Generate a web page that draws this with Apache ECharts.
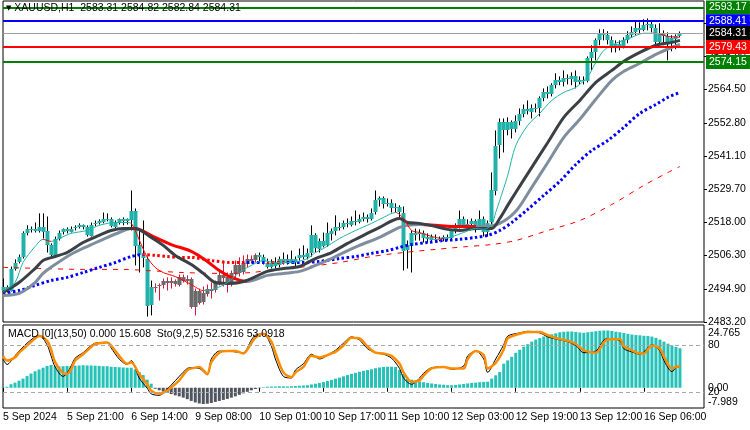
<!DOCTYPE html>
<html><head><meta charset="utf-8">
<script src="https://cdn.jsdelivr.net/npm/echarts@6/dist/echarts.min.js"></script>
<style>html,body{margin:0;padding:0;background:#fff}#c{width:750px;height:430px}</style>
</head><body><div id="c"></div>
<script>
// ---------------- data ----------------
const symbolTitle = 'XAUUSD,H1  2583.31 2584.82 2582.84 2584.31';
const subTitle = 'MACD [0](13,50) 0.000 15.608  Sto(9,2,5) 52.5316 53.0918';
const timeLabels = ['5 Sep 2024','5 Sep 21:00','6 Sep 14:00','9 Sep 08:00','10 Sep 01:00','10 Sep 17:00','11 Sep 10:00','12 Sep 03:00','12 Sep 19:00','13 Sep 12:00','16 Sep 06:00'];
const priceTickLabels = ['2483.20','2494.90','2506.30','2518.00','2529.70','2541.10','2552.80','2564.50','2575.90','2587.60'];
const PRICE_MIN = 2483.2, PRICE_MAX = 2595.48, PRICE_LABEL_STEP = 11.614;
const MACD_MIN = -7.989, MACD_MAX = 24.765;

const openP = [
2494.2,2495.3,2494.2,2501.9,2504.0,2505.8,2514.2,2515.6,2515.9,2515.2,
2516.6,2514.9,2510.0,2506.5,2512.4,2514.5,2515.6,2514.9,2515.9,2516.3,
2517.0,2516.3,2513.5,2517.3,2517.7,2518.4,2519.4,2519.1,2516.6,2518.0,
2519.1,2518.4,2519.1,2522.2,2510.0,2506.5,2505.4,2489.0,2495.3,2495.6,
2496.0,2497.4,2496.7,2497.4,2496.3,2499.1,2497.7,2498.4,2488.6,2494.2,
2490.0,2493.2,2494.9,2494.2,2496.7,2499.8,2498.8,2497.0,2500.2,2503.3,
2500.5,2503.7,2505.4,2504.7,2506.5,2505.8,2504.0,2502.6,2504.0,2503.0,
2505.1,2504.0,2505.4,2504.4,2505.4,2506.5,2505.8,2507.2,2513.5,2508.9,
2511.7,2510.0,2514.2,2515.2,2516.6,2516.3,2517.7,2517.3,2518.7,2518.4,
2519.4,2520.1,2519.4,2521.5,2525.7,2526.4,2524.3,2524.7,2522.9,2523.3,
2521.5,2508.2,2510.0,2514.5,2513.8,2514.2,2512.4,2513.1,2512.1,2512.4,
2512.1,2512.8,2512.4,2514.9,2517.0,2519.4,2517.3,2517.5,2518.4,2516.6,
2519.4,2514.9,2518.0,2529.2,2544.9,2553.0,2550.2,2553.0,2550.6,2553.4,
2555.8,2557.6,2556.9,2558.2,2557.9,2561.4,2563.5,2562.8,2566.0,2567.7,
2567.0,2568.4,2568.1,2569.1,2567.0,2567.7,2567.4,2575.4,2577.5,2581.7,
2584.2,2583.5,2581.7,2579.3,2580.3,2579.6,2581.7,2583.5,2584.5,2585.9,
2585.2,2587.0,2587.3,2585.9,2581.0,2583.8,2583.1,2580.7,2582.4,2583.31];
const closeP = [
2495.3,2494.2,2501.9,2504.0,2505.8,2514.2,2515.6,2515.9,2515.2,2516.6,
2514.9,2510.0,2506.5,2512.4,2514.5,2515.6,2514.9,2515.9,2516.3,2517.0,
2516.3,2513.5,2517.3,2517.7,2518.4,2519.4,2519.1,2516.6,2518.0,2519.1,
2518.4,2519.1,2522.2,2510.0,2506.5,2505.4,2489.0,2495.3,2495.6,2496.0,
2497.4,2496.7,2497.4,2496.3,2499.1,2497.7,2498.4,2488.6,2494.2,2490.0,
2493.2,2494.9,2494.2,2496.7,2499.8,2498.8,2497.0,2500.2,2503.3,2500.5,
2503.7,2505.4,2504.7,2506.5,2505.8,2504.0,2502.6,2504.0,2503.0,2505.1,
2504.0,2505.4,2504.4,2505.4,2506.5,2505.8,2507.2,2513.5,2508.9,2511.7,
2510.0,2514.2,2515.2,2516.6,2516.3,2517.7,2517.3,2518.7,2518.4,2519.4,
2520.1,2519.4,2521.5,2525.7,2526.4,2524.3,2524.7,2522.9,2523.3,2521.5,
2508.2,2510.0,2514.5,2513.8,2514.2,2512.4,2513.1,2512.1,2512.4,2512.1,
2512.8,2512.4,2514.9,2517.0,2519.4,2517.3,2517.5,2518.4,2516.6,2519.4,
2514.9,2518.0,2529.2,2544.9,2553.0,2550.2,2553.0,2550.6,2553.4,2555.8,
2557.6,2556.9,2558.2,2557.9,2561.4,2563.5,2562.8,2566.0,2567.7,2567.0,
2568.4,2568.1,2569.1,2567.0,2567.7,2567.4,2575.4,2577.5,2581.7,2584.2,
2583.5,2581.7,2579.3,2580.3,2579.6,2581.7,2583.5,2584.5,2585.9,2585.2,
2587.0,2587.3,2585.9,2581.0,2583.8,2583.1,2580.7,2582.4,2583.31,2584.31];
const lowP = [
2493.2,2493.5,2493.9,2501.2,2503.7,2505.4,2513.5,2514.5,2514.5,2514.5,
2512.4,2507.5,2505.8,2506.1,2511.7,2513.8,2514.2,2514.5,2515.2,2515.9,
2515.6,2513.1,2513.1,2516.6,2517.3,2517.7,2518.4,2516.3,2515.9,2517.3,
2517.0,2517.3,2515.2,2503.0,2500.5,2502.3,2485.1,2485.5,2493.5,2490.7,
2494.9,2494.2,2494.9,2495.6,2495.6,2497.0,2496.3,2487.9,2485.5,2489.3,
2489.3,2492.1,2491.4,2493.5,2496.0,2495.6,2493.5,2495.6,2498.4,2499.1,
2499.8,2502.3,2503.7,2504.0,2504.0,2503.3,2501.9,2501.9,2501.9,2502.3,
2503.3,2503.3,2503.7,2502.6,2504.7,2505.1,2505.1,2506.1,2507.5,2507.5,
2509.3,2509.6,2511.7,2513.5,2515.2,2515.6,2516.3,2516.6,2517.0,2517.7,
2518.4,2518.0,2518.7,2520.8,2523.6,2522.9,2523.6,2521.5,2521.5,2519.4,
2501.2,2501.9,2500.5,2511.7,2511.7,2511.0,2511.0,2511.0,2511.0,2511.4,
2511.4,2511.7,2511.7,2514.2,2515.9,2516.6,2516.3,2516.6,2514.5,2515.9,
2513.1,2513.1,2517.0,2527.5,2540.4,2542.5,2548.5,2547.4,2549.5,2552.0,
2554.8,2555.8,2554.4,2556.5,2555.1,2560.4,2561.4,2562.1,2564.9,2566.0,
2565.6,2566.3,2566.0,2564.9,2566.3,2566.3,2567.0,2571.2,2574.7,2580.0,
2581.7,2580.3,2577.5,2577.5,2578.2,2578.9,2580.7,2582.8,2583.5,2584.2,
2584.9,2585.2,2584.5,2580.3,2580.3,2580.0,2574.7,2577.9,2578.6,2582.84];
const highP = [
2498.4,2496.0,2502.6,2505.1,2506.8,2514.9,2517.0,2516.6,2518.0,2521.2,
2521.2,2520.1,2510.7,2513.1,2515.2,2515.9,2516.3,2516.6,2517.0,2517.7,
2517.3,2517.0,2518.0,2518.7,2519.1,2521.5,2521.2,2519.8,2518.7,2519.4,
2519.8,2519.4,2529.2,2522.9,2515.2,2518.7,2506.1,2497.7,2496.7,2496.7,
2498.4,2498.8,2498.8,2498.1,2499.8,2499.8,2499.5,2498.8,2494.9,2494.9,
2495.6,2496.3,2497.0,2497.7,2501.2,2504.7,2500.5,2501.2,2504.7,2505.8,
2506.5,2506.8,2506.5,2507.2,2507.5,2506.8,2505.4,2505.1,2505.8,2506.1,
2507.5,2506.8,2508.2,2506.1,2508.9,2510.0,2508.9,2517.0,2514.2,2512.4,
2514.5,2518.0,2515.9,2520.5,2518.0,2518.7,2519.4,2520.1,2522.2,2520.8,
2521.5,2520.8,2522.9,2529.2,2527.1,2527.1,2526.4,2526.1,2524.7,2524.0,
2523.6,2511.7,2515.2,2515.9,2515.6,2515.2,2514.2,2513.8,2513.8,2513.1,
2513.5,2513.8,2515.6,2517.7,2522.2,2520.1,2519.1,2519.4,2519.1,2522.2,
2520.1,2518.7,2535.5,2550.2,2554.4,2554.4,2554.8,2553.7,2555.5,2557.9,
2559.3,2560.7,2559.3,2559.6,2562.1,2564.9,2565.6,2566.7,2570.2,2569.1,
2571.2,2569.8,2570.5,2571.2,2569.1,2569.1,2576.1,2580.0,2582.4,2585.6,
2585.6,2584.9,2583.1,2581.7,2581.7,2582.8,2584.9,2586.6,2588.7,2588.0,
2589.1,2589.4,2588.7,2587.3,2587.7,2585.2,2584.5,2583.5,2583.8,2584.82];
const greyCandleRange = [38, 63];

// moving averages, read at sampled bars: [bar, price]
const fastMA = [[0,2493.9],[3,2497.0],[5,2504.0],[8,2509.6],[10,2512.1],[12,2511.4],[14,2512.4],[17,2514.2],[21,2515.2],[24,2517.0],[28,2518.0],[31,2518.0],[32,2517.7],[33,2515.2],[36,2505.8],[38,2502.3],[40,2500.5],[43,2499.1],[47,2496.3],[50,2494.2],[53,2494.9],[56,2497.0],[59,2500.5],[62,2503.0],[65,2504.7],[68,2504.0],[72,2504.0],[76,2505.4],[78,2507.5],[80,2508.9],[84,2512.4],[88,2515.2],[92,2517.7],[95,2519.8],[98,2521.5],[100,2519.4],[102,2515.2],[104,2514.5],[107,2513.1],[110,2512.4],[115,2514.5],[118,2515.9],[120,2515.6],[122,2517.3],[123,2521.5],[124,2525.7],[126,2534.5],[128,2544.9],[131,2552.0],[134,2556.2],[137,2560.7],[140,2563.5],[143,2565.3],[146,2569.1],[148,2574.0],[150,2578.2],[153,2580.7],[157,2582.8],[160,2584.2],[163,2584.2],[166,2583.1],[169,2582.8]];
const fastRedRanges = [[10,12],[32,50],[98,110],[162,169]];
const midMA = [[0,2493.5],[4,2497.0],[8,2501.9],[10,2504.7],[13,2506.1],[16,2507.5],[20,2511.0],[24,2513.5],[27,2515.2],[30,2515.9],[33,2515.9],[37,2512.8],[40,2510.0],[43,2506.5],[47,2503.3],[50,2500.2],[53,2497.0],[56,2496.7],[59,2497.0],[62,2498.4],[66,2500.9],[70,2501.9],[74,2502.6],[78,2505.4],[82,2507.5],[86,2510.7],[89,2512.8],[94,2516.3],[99,2519.4],[101,2518.0],[104,2517.7],[108,2516.6],[111,2515.6],[114,2515.2],[118,2515.9],[122,2515.9],[124,2519.4],[126,2524.0],[128,2528.5],[132,2537.3],[136,2546.0],[140,2554.8],[144,2560.7],[148,2567.0],[152,2571.2],[155,2574.4],[159,2577.5],[163,2580.0],[167,2581.0],[169,2581.7]];
const slowMA = [[0,2492.5],[4,2493.2],[8,2497.0],[10,2500.2],[13,2503.3],[17,2506.9],[21,2509.6],[25,2512.1],[29,2514.5],[32,2515.9],[34,2515.6],[38,2512.8],[42,2510.3],[47,2507.9],[51,2504.4],[54,2501.2],[57,2498.8],[61,2497.4],[66,2499.5],[70,2500.2],[74,2500.9],[78,2503.0],[82,2505.4],[85,2507.5],[89,2510.0],[94,2512.8],[99,2516.3],[101,2517.0],[104,2517.3],[108,2517.0],[112,2516.6],[116,2516.6],[120,2516.6],[124,2517.7],[128,2521.9],[132,2530.3],[136,2539.0],[140,2547.8],[144,2554.1],[148,2561.1],[152,2567.7],[155,2570.9],[159,2573.7],[163,2576.8],[167,2579.3],[169,2580.3]];
const slowRedRanges = [[32,61],[105,118]];
const dotMA = [[0,2493.2],[4,2494.2],[8,2496.0],[12,2497.7],[16,2498.8],[20,2500.5],[24,2502.3],[28,2504.0],[32,2506.1],[35,2506.8],[38,2506.5],[41,2506.1],[44,2505.8],[47,2505.8],[52,2504.7],[57,2504.0],[61,2504.0],[66,2504.0],[70,2504.0],[75,2504.0],[79,2504.4],[84,2505.4],[88,2506.1],[92,2507.2],[96,2508.2],[99,2509.3],[102,2510.3],[106,2511.0],[110,2511.7],[114,2512.1],[118,2512.8],[121,2513.5],[124,2515.2],[127,2518.0],[131,2522.6],[135,2527.5],[139,2532.4],[143,2538.3],[147,2543.2],[151,2546.7],[155,2551.3],[159,2556.2],[163,2559.3],[166,2561.8],[169,2563.5]];
const dotRedRanges = [[35,61],[66,71]];
const dashMA = [[0,2502.3],[10,2501.9],[20,2501.6],[30,2501.6],[36,2501.2],[45,2500.5],[55,2500.2],[62,2500.5],[68,2501.6],[76,2502.6],[84,2504.0],[92,2506.1],[100,2507.5],[108,2508.6],[116,2509.6],[122,2510.3],[128,2511.7],[136,2515.2],[144,2518.7],[152,2524.3],[160,2531.0],[166,2535.5],[169,2537.6]];

// horizontal levels
const levelValues = [2593.17, 2588.41, 2584.31, 2579.43, 2574.15];

// MACD histogram, one per bar
const macdHist = [
0.2,0.4,1.4,2.0,2.8,3.6,4.6,5.6,6.5,7.2,
7.9,8.6,9.0,8.6,8.4,8.5,8.6,8.6,8.7,8.8,
8.9,8.8,8.8,8.7,8.6,8.5,8.5,8.3,8.2,8.1,
8.0,7.9,7.9,7.2,6.2,5.0,3.2,1.6,-0.4,-1.0,
-1.5,-2.0,-2.5,-3.0,-3.4,-3.9,-4.5,-5.2,-5.8,-6.2,
-6.4,-6.3,-6.0,-5.6,-5.2,-4.8,-4.4,-3.9,-3.4,-2.8,
-2.2,-1.6,-1.0,-0.5,-0.2,0.2,0.4,0.5,0.5,0.6,
0.6,0.5,0.6,0.7,0.8,0.9,1.0,1.3,1.6,1.9,
2.3,2.7,3.1,3.6,4.0,4.5,5.0,5.5,5.9,6.3,
6.7,7.0,7.3,7.7,8.0,8.2,8.3,8.3,8.2,7.0,
5.4,4.0,3.2,2.8,2.5,2.2,1.9,1.7,1.5,1.3,
1.2,1.0,1.0,1.1,1.3,1.5,1.7,1.9,2.0,2.2,
2.3,2.4,3.6,4.9,6.2,9.5,10.8,12.2,13.8,15.0,
16.2,17.2,18.2,19.0,19.6,20.2,20.6,21.1,21.5,21.9,
22.1,22.2,22.2,22.0,21.8,21.7,21.9,22.1,22.3,22.5,
22.6,22.6,22.4,22.1,21.9,21.6,21.3,21.0,20.8,20.7,
20.5,20.4,20.2,19.7,19.0,18.2,17.4,16.7,16.1,15.608];

// stochastic (sampled bars)
const stochK = [[0,62],[1,55],[3,66],[4,72],[6,82],[8,90],[9,92],[11,80],[12,66],[13,52],[15,40],[16,44],[17,53],[18,63],[20,70],[22,79],[23,82],[26,83],[27,76],[29,62],[31,55],[32,60],[34,38],[36,25],[37,18],[39,16],[41,24],[42,29],[44,40],[46,50],[47,51],[49,50],[51,42],[52,62],[54,72],[56,72],[58,71],[60,70],[62,86],[63,92],[65,94],[67,78],[68,62],[70,40],[72,38],[73,48],[75,56],[77,68],[79,62],[82,70],[83,73],[85,82],[87,90],[89,86],[91,75],[93,70],[95,68],[97,63],[99,50],[100,38],[102,30],[104,38],[105,44],[107,51],[110,52],[112,49],[115,53],[116,66],[118,72],[120,62],[121,45],[123,62],[125,80],[126,91],[129,95],[131,97],[134,95],[136,90],[139,86],[141,84],[143,79],[145,70],[148,72],[150,86],[151,88],[154,85],[155,75],[157,71],[159,68],[160,71],[162,80],[164,72],[165,60],[167,46],[168,51],[169,52.5316]];
const stochD = [[0,66],[1,60],[3,64],[4,70],[6,79],[8,88],[9,91],[11,85],[12,74],[13,58],[15,44],[16,43],[17,49],[18,60],[20,68],[22,77],[23,81],[26,83],[27,79],[29,66],[31,56],[32,58],[34,43],[36,30],[37,22],[39,18],[41,22],[42,26],[44,35],[46,48],[47,50],[49,52],[51,43],[52,58],[54,70],[56,72],[58,72],[60,69],[62,82],[63,89],[65,94],[67,84],[68,70],[70,45],[72,39],[73,45],[75,52],[77,66],[79,64],[82,69],[83,71],[85,79],[87,89],[89,88],[91,78],[93,70],[95,69],[97,66],[99,56],[100,45],[102,33],[104,35],[105,41],[107,50],[110,52],[112,50],[115,50],[116,62],[118,72],[120,67],[121,50],[123,57],[125,74],[126,88],[129,94],[131,96],[134,96],[136,92],[139,87],[141,85],[143,81],[145,73],[148,70],[150,83],[151,87],[154,87],[155,78],[157,73],[159,69],[160,69],[162,79],[164,75],[165,65],[167,50],[168,52],[169,53.0918]];
const stochLevels = [80, 20];

// ---------------- chart ----------------
const FONT = 'Liberation Sans, Arial, sans-serif';
const FS = 10.5;
const SLOTS = 176; // bars + right shift
const categories = Array.from({length: SLOTS}, (_, i) => String(i));
const TEAL = '#20b2aa', HIST_TEAL = '#26c2b8', RED = '#ff0000';
const levelLine = ['#008000', '#0000ff', '#a0a0a0', '#ff0000', '#008000'];
const levelBox = ['#008000', '#0000ff', '#000000', '#ff0000', '#008000'];
const levelWidth = [2, 2, 1, 2, 2];

const candleData = closeP.map((c, i) => [i, openP[i], c, lowP[i], highP[i]]);

function pieces(ranges, base, alt) {
  const out = []; let s = -10;
  ranges.forEach(([a, b]) => { out.push({gte: s, lt: a, color: base}); out.push({gte: a, lt: b, color: alt}); s = b; });
  out.push({gte: s, lte: 1000, color: base});
  return out;
}

const chart = echarts.init(document.getElementById('c'), null, {width: 750, height: 430});
const option = {
  animation: false,
  backgroundColor: '#ffffff',
  textStyle: {fontFamily: FONT},
  title: [
    {text: '{t|▼} ' + symbolTitle, left: 6, top: 3, padding: 0,
     textStyle: {fontSize: FS, fontWeight: 'normal', color: '#000', fontFamily: FONT,
       rich: {t: {fontSize: 7, color: '#000', fontFamily: 'DejaVu Sans'}}}},
    {text: subTitle, left: 8, top: 329, padding: 0,
     textStyle: {fontSize: FS, fontWeight: 'normal', color: '#000', fontFamily: FONT}}
  ],
  grid: [
    {left: 3, right: 46, top: 1, height: 321, show: true, borderColor: '#000', borderWidth: 1},
    {left: 3, right: 46, top: 325, height: 83, show: true, borderColor: '#000', borderWidth: 1}
  ],
  xAxis: [
    {type: 'category', gridIndex: 0, data: categories, boundaryGap: false, show: false},
    {type: 'category', gridIndex: 1, data: categories, boundaryGap: false,
     axisLine: {show: false}, splitLine: {show: false},
     axisTick: {show: true, interval: 15, length: 4, lineStyle: {color: '#000'}},
     axisLabel: {interval: 15, align: 'left', margin: 4, fontSize: FS, color: '#000', fontFamily: FONT,
       formatter: (v, idx) => timeLabels[idx / 16] || ''}}
  ],
  yAxis: [
    {type: 'value', gridIndex: 0, min: PRICE_MIN, max: PRICE_MAX, show: false},
    {type: 'value', gridIndex: 0, position: 'right', min: 0, max: (PRICE_MAX - PRICE_MIN) / PRICE_LABEL_STEP, interval: 1,
     axisLine: {show: false}, splitLine: {show: false},
     axisTick: {show: true, length: 3, lineStyle: {color: '#000'}},
     axisLabel: {showMaxLabel: false, margin: 4, fontSize: FS, color: '#000', fontFamily: FONT,
       formatter: v => priceTickLabels[v] || ''}},
    {type: 'value', gridIndex: 1, position: 'right', min: MACD_MIN, max: MACD_MAX,
     axisLine: {show: false}, splitLine: {show: false}, axisTick: {show: false},
     axisLabel: {showMinLabel: true, showMaxLabel: true, margin: 4, fontSize: FS, color: '#000', fontFamily: FONT,
       formatter: v => v === MACD_MAX ? '{mx|' + MACD_MAX.toFixed(3) + '}' : (v === MACD_MIN ? '{mn|' + MACD_MIN.toFixed(3) + '}' : (v === 0 ? '0.00' : '')),
       rich: {mx: {padding: [17, 0, 0, 0], fontSize: FS, color: '#000', fontFamily: FONT},
              mn: {padding: [0, 0, 11, 0], fontSize: FS, color: '#000', fontFamily: FONT}}}},
    {type: 'value', gridIndex: 1, position: 'right', min: 0, max: 105, interval: 20,
     axisLine: {show: false}, splitLine: {show: false}, axisTick: {show: false},
     axisLabel: {showMaxLabel: false, margin: 4, fontSize: FS, color: '#000', fontFamily: FONT,
       formatter: v => stochLevels.indexOf(v) >= 0 ? String(v) : ''}}
  ],
  visualMap: [
    {type: 'piecewise', show: false, dimension: 0, seriesIndex: 2, pieces: pieces(dotRedRanges, '#0000ff', RED)},
    {type: 'piecewise', show: false, dimension: 0, seriesIndex: 3, pieces: pieces(slowRedRanges, '#7f8e9e', RED)},
    {type: 'piecewise', show: false, dimension: 0, seriesIndex: 5, pieces: pieces(fastRedRanges, TEAL, RED)}
  ],
  series: [
    {type: 'custom', name: 'candles', xAxisIndex: 0, yAxisIndex: 0, data: candleData,
     encode: {x: 0, y: [1, 2, 3, 4]}, z: 2,
     renderItem: (params, api) => {
       const i = api.value(0);
       const pO = api.coord([i, api.value(1)]), pC = api.coord([i, api.value(2)]);
       const pL = api.coord([i, api.value(3)]), pH = api.coord([i, api.value(4)]);
       const x = Math.floor(pO[0]);
       const grey = i >= greyCandleRange[0] && i <= greyCandleRange[1];
       const top = Math.min(pO[1], pC[1]), bot = Math.max(pO[1], pC[1]);
       return {type: 'group', children: [
         {type: 'line', shape: {x1: x + 0.5, y1: pH[1], x2: x + 0.5, y2: pL[1]},
          style: {stroke: grey ? '#dc143c' : '#000', lineWidth: 1}},
         {type: 'rect', shape: {x: x - 1.5, y: Math.round(top), width: 4, height: Math.max(1, Math.round(bot - top))},
          style: {fill: grey ? '#6a6a6a' : TEAL}}
       ]};
     }},
    {type: 'line', name: 'dashMA', xAxisIndex: 0, yAxisIndex: 0, data: dashMA, showSymbol: false, smooth: 0.3, z: 3,
     lineStyle: {color: RED, width: 1, type: [5, 6]},
     markLine: {silent: true, symbol: ['none', 'none'], animation: false,
       data: levelValues.map((v, k) => ({
         yAxis: v,
         lineStyle: {color: levelLine[k], width: levelWidth[k], type: 'solid'},
         label: {show: true, position: 'end', distance: 2, formatter: v.toFixed(2),
           backgroundColor: levelBox[k], color: '#fff', padding: [2, 3, 1, 3], fontSize: FS, fontFamily: FONT}
       }))}},
    {type: 'line', name: 'dotMA', xAxisIndex: 0, yAxisIndex: 0, data: dotMA, showSymbol: false, smooth: 0.3, z: 3,
     lineStyle: {width: 3, type: [2.5, 2.5], cap: 'butt'}},
    {type: 'line', name: 'slowMA', xAxisIndex: 0, yAxisIndex: 0, data: slowMA, showSymbol: false, smooth: 0.3, z: 3,
     lineStyle: {width: 3}},
    {type: 'line', name: 'midMA', xAxisIndex: 0, yAxisIndex: 0, data: midMA, showSymbol: false, smooth: 0.3, z: 3,
     lineStyle: {width: 3, color: '#3b3f46'}},
    {type: 'line', name: 'fastMA', xAxisIndex: 0, yAxisIndex: 0, data: fastMA, showSymbol: false, smooth: 0.3, z: 3,
     lineStyle: {width: 1}},
    {type: 'bar', name: 'macd', xAxisIndex: 1, yAxisIndex: 2, data: macdHist, barWidth: 3,
     itemStyle: {color: p => p.value >= 0 ? HIST_TEAL : '#4f5660'}},
    {type: 'line', name: 'stochK', xAxisIndex: 1, yAxisIndex: 3, data: stochK, showSymbol: false, smooth: 0.3,
     lineStyle: {color: '#000', width: 1},
     markLine: {silent: true, symbol: ['none', 'none'], animation: false, label: {show: false},
       lineStyle: {color: '#a8a8a8', width: 1, type: [4, 3]},
       data: stochLevels.map(v => ({yAxis: v}))}},
    {type: 'line', name: 'stochD', xAxisIndex: 1, yAxisIndex: 3, data: stochD, showSymbol: false, smooth: 0.3,
     lineStyle: {color: '#ff8c00', width: 2.5}}
  ]
};
chart.setOption(option);
</script>
</body></html>
